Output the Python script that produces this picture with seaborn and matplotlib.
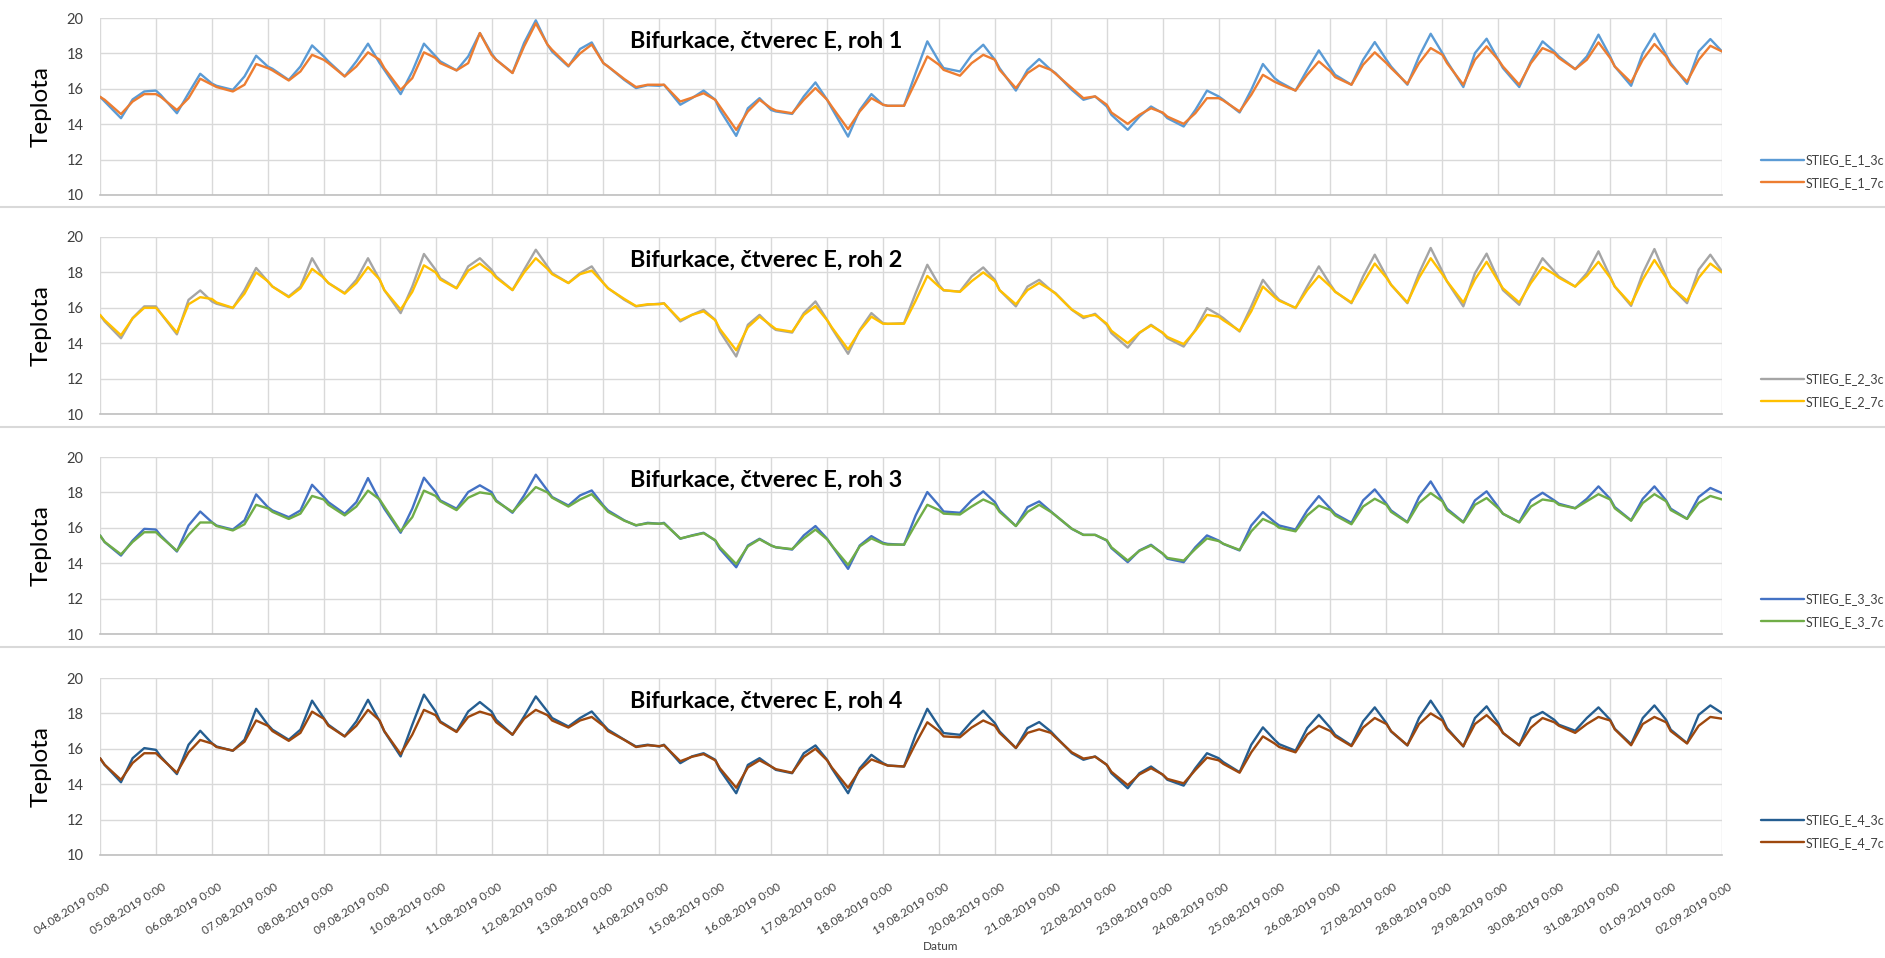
import numpy as np
import pandas as pd
import matplotlib
matplotlib.use("Agg")
import matplotlib.pyplot as plt
import matplotlib.transforms as mtransforms
import seaborn as sns

# ---------------- DATA ----------------
days = pd.date_range("2019-08-04", periods=29, freq="D")
hours_of_day = [0, 2, 9, 14, 19]
end_time = pd.Timestamp("2019-09-02 00:00")

tick_labels = [
    "04.08.2019 0:00", "05.08.2019 0:00", "06.08.2019 0:00", "07.08.2019 0:00",
    "08.08.2019 0:00", "09.08.2019 0:00", "10.08.2019 0:00", "11.08.2019 0:00",
    "12.08.2019 0:00", "13.08.2019 0:00", "14.08.2019 0:00", "15.08.2019 0:00",
    "16.08.2019 0:00", "17.08.2019 0:00", "18.08.2019 0:00", "19.08.2019 0:00",
    "20.08.2019 0:00", "21.08.2019 0:00", "22.08.2019 0:00", "23.08.2019 0:00",
    "24.08.2019 0:00", "25.08.2019 0:00", "26.08.2019 0:00", "27.08.2019 0:00",
    "28.08.2019 0:00", "29.08.2019 0:00", "30.08.2019 0:00", "31.08.2019 0:00",
    "01.09.2019 0:00", "02.09.2019 0:00",
]

titles = ["Bifurkace, čtverec E, roh 1", "Bifurkace, čtverec E, roh 2",
          "Bifurkace, čtverec E, roh 3", "Bifurkace, čtverec E, roh 4"]
series_names = [("STIEG_E_1_3c", "STIEG_E_1_7c"), ("STIEG_E_2_3c", "STIEG_E_2_7c"),
                ("STIEG_E_3_3c", "STIEG_E_3_7c"), ("STIEG_E_4_3c", "STIEG_E_4_7c")]

# values per day at 0, 2, 9, 14, 19 h ; last value = 02.09.2019 0:00
e1_3c = [15.55, 15.28, 14.34, 15.40, 15.85,  15.90, 15.66, 14.62, 15.75, 16.85,
         16.30, 16.17, 15.94, 16.70, 17.87,  17.26, 17.13, 16.50, 17.26, 18.45,
         17.83, 17.55, 16.70, 17.55, 18.55,  17.45, 17.07, 15.70, 16.98, 18.55,
         17.83, 17.55, 17.04, 17.83, 19.15,  18.00, 17.64, 16.90, 18.60, 19.87,
         18.50, 18.10, 17.26, 18.25, 18.62,  17.45, 17.26, 16.50, 16.04, 16.20,
         16.17, 16.23, 15.10, 15.47, 15.90,  15.38, 14.80, 13.34, 14.90, 15.47,
         14.80, 14.72, 14.58, 15.57, 16.36,  15.38, 14.90, 13.30, 14.80, 15.70,
         15.10, 15.04, 15.04, 16.90, 18.68,  17.55, 17.17, 16.98, 17.90, 18.49,
         17.64, 17.17, 15.90, 17.07, 17.68,  17.07, 16.89, 15.94, 15.38, 15.57,
         15.00, 14.53, 13.68, 14.43, 15.00,  14.62, 14.34, 13.87, 14.80, 15.90,
         15.57, 15.38, 14.66, 15.94, 17.40,  16.60, 16.40, 15.90, 17.07, 18.17,
         17.17, 16.79, 16.23, 17.64, 18.64,  17.64, 17.26, 16.23, 17.83, 19.11,
         18.02, 17.55, 16.10, 18.02, 18.83,  17.64, 17.17, 16.10, 17.55, 18.68,
         18.11, 17.83, 17.11, 17.83, 19.06,  17.83, 17.26, 16.17, 18.02, 19.11,
         17.92, 17.45, 16.28, 18.11, 18.81,  18.11]
e1_7c = [15.55, 15.38, 14.57, 15.28, 15.70,  15.70, 15.55, 14.80, 15.47, 16.57,
         16.23, 16.10, 15.85, 16.23, 17.40,  17.17, 17.04, 16.47, 16.98, 17.92,
         17.64, 17.45, 16.70, 17.26, 18.06,  17.64, 17.17, 15.94, 16.60, 18.06,
         17.74, 17.45, 17.04, 17.45, 19.15,  17.92, 17.64, 16.89, 18.40, 19.70,
         18.50, 18.20, 17.30, 18.00, 18.50,  17.45, 17.26, 16.55, 16.10, 16.23,
         16.23, 16.23, 15.28, 15.50, 15.75,  15.38, 15.00, 13.68, 14.72, 15.38,
         14.90, 14.77, 14.62, 15.38, 16.04,  15.38, 15.00, 13.72, 14.72, 15.47,
         15.10, 15.04, 15.04, 16.40, 17.83,  17.36, 17.07, 16.74, 17.45, 17.92,
         17.64, 17.07, 16.04, 16.89, 17.32,  17.07, 16.85, 16.04, 15.47, 15.57,
         15.10, 14.66, 14.02, 14.53, 14.90,  14.66, 14.43, 14.02, 14.62, 15.47,
         15.47, 15.34, 14.72, 15.66, 16.79,  16.40, 16.28, 15.90, 16.79, 17.55,
         16.98, 16.66, 16.23, 17.36, 18.06,  17.45, 17.17, 16.28, 17.45, 18.30,
         17.92, 17.45, 16.23, 17.64, 18.40,  17.64, 17.26, 16.23, 17.45, 18.30,
         18.02, 17.74, 17.11, 17.64, 18.62,  17.74, 17.26, 16.36, 17.64, 18.53,
         17.83, 17.36, 16.40, 17.64, 18.43,  18.11]
e2_3c = [15.60, 15.23, 14.28, 15.42, 16.08,  16.08, 15.70, 14.50, 16.45, 16.98,
         16.36, 16.23, 15.98, 17.00, 18.25,  17.49, 17.20, 16.64, 17.20, 18.80,
         17.68, 17.40, 16.83, 17.58, 18.80,  17.58, 17.00, 15.70, 17.20, 19.04,
         18.15, 17.68, 17.11, 18.34, 18.80,  18.15, 17.77, 17.00, 18.15, 19.28,
         18.34, 17.96, 17.40, 17.96, 18.34,  17.40, 17.11, 16.45, 16.08, 16.17,
         16.23, 16.26, 15.23, 15.60, 15.89,  15.32, 14.66, 13.25, 15.04, 15.60,
         14.94, 14.75, 14.60, 15.70, 16.36,  15.32, 14.85, 13.40, 14.75, 15.70,
         15.13, 15.09, 15.13, 16.83, 18.43,  17.30, 16.98, 16.92, 17.77, 18.28,
         17.58, 17.00, 16.08, 17.20, 17.58,  17.00, 16.83, 15.89, 15.42, 15.66,
         15.04, 14.57, 13.75, 14.57, 15.04,  14.57, 14.28, 13.81, 14.75, 15.98,
         15.60, 15.42, 14.66, 16.08, 17.58,  16.74, 16.45, 15.98, 17.20, 18.34,
         17.30, 16.92, 16.26, 17.77, 19.00,  17.77, 17.30, 16.26, 17.96, 19.38,
         18.06, 17.49, 16.08, 17.96, 19.06,  17.58, 17.00, 16.17, 17.58, 18.80,
         18.06, 17.77, 17.20, 17.96, 19.19,  17.77, 17.20, 16.11, 17.96, 19.32,
         17.77, 17.20, 16.26, 18.15, 19.00,  18.06]
e2_7c = [15.60, 15.30, 14.45, 15.40, 16.00,  16.00, 15.70, 14.60, 16.20, 16.60,
         16.50, 16.30, 16.00, 16.80, 18.00,  17.50, 17.20, 16.60, 17.10, 18.20,
         17.70, 17.40, 16.80, 17.40, 18.30,  17.60, 17.00, 15.90, 16.90, 18.40,
         18.00, 17.60, 17.10, 18.10, 18.50,  18.00, 17.70, 17.00, 18.00, 18.80,
         18.20, 17.90, 17.40, 17.90, 18.10,  17.40, 17.10, 16.50, 16.10, 16.20,
         16.20, 16.25, 15.30, 15.60, 15.80,  15.30, 14.80, 13.60, 14.90, 15.50,
         15.00, 14.80, 14.65, 15.60, 16.10,  15.30, 14.90, 13.65, 14.70, 15.50,
         15.10, 15.10, 15.10, 16.40, 17.80,  17.20, 17.00, 16.90, 17.50, 18.00,
         17.50, 17.00, 16.20, 17.00, 17.40,  17.00, 16.80, 15.90, 15.50, 15.60,
         15.10, 14.70, 14.00, 14.60, 15.00,  14.60, 14.35, 13.95, 14.70, 15.60,
         15.50, 15.30, 14.70, 15.80, 17.20,  16.60, 16.40, 16.00, 17.00, 17.80,
         17.20, 16.90, 16.30, 17.40, 18.50,  17.70, 17.30, 16.30, 17.70, 18.80,
         17.90, 17.50, 16.30, 17.60, 18.60,  17.50, 17.10, 16.30, 17.40, 18.30,
         17.90, 17.70, 17.20, 17.80, 18.60,  17.70, 17.20, 16.20, 17.60, 18.70,
         17.70, 17.20, 16.40, 17.70, 18.50,  18.00]
e3_3c = [15.57, 15.19, 14.43, 15.28, 15.94,  15.90, 15.57, 14.66, 16.13, 16.92,
         16.32, 16.13, 15.90, 16.42, 17.89,  17.17, 16.98, 16.60, 16.98, 18.43,
         17.74, 17.45, 16.79, 17.45, 18.81,  17.55, 17.08, 15.72, 17.08, 18.83,
         18.02, 17.55, 17.08, 18.02, 18.40,  18.02, 17.55, 16.85, 17.83, 19.00,
         18.11, 17.74, 17.26, 17.83, 18.11,  17.26, 16.98, 16.42, 16.13, 16.28,
         16.23, 16.28, 15.38, 15.57, 15.72,  15.28, 14.81, 13.77, 15.00, 15.38,
         15.00, 14.90, 14.77, 15.57, 16.10,  15.38, 15.00, 13.68, 15.00, 15.53,
         15.15, 15.09, 15.04, 16.70, 18.02,  17.26, 16.92, 16.85, 17.55, 18.06,
         17.45, 16.98, 16.10, 17.17, 17.49,  16.92, 16.70, 15.94, 15.60, 15.60,
         15.28, 14.85, 14.06, 14.72, 15.04,  14.53, 14.25, 14.06, 14.90, 15.57,
         15.28, 15.09, 14.72, 16.13, 16.89,  16.32, 16.13, 15.90, 16.98, 17.79,
         17.08, 16.79, 16.28, 17.55, 18.17,  17.36, 16.98, 16.32, 17.74, 18.62,
         17.55, 17.08, 16.32, 17.55, 18.06,  17.17, 16.79, 16.32, 17.55, 17.98,
         17.55, 17.36, 17.11, 17.64, 18.34,  17.64, 17.17, 16.42, 17.64, 18.34,
         17.55, 17.08, 16.51, 17.74, 18.25,  17.96]
e3_7c = [15.57, 15.20, 14.50, 15.20, 15.75,  15.75, 15.50, 14.70, 15.60, 16.30,
         16.30, 16.10, 15.85, 16.20, 17.30,  17.10, 16.90, 16.50, 16.80, 17.80,
         17.60, 17.30, 16.70, 17.20, 18.10,  17.60, 17.20, 15.80, 16.60, 18.10,
         17.80, 17.50, 17.00, 17.70, 18.00,  17.90, 17.50, 16.90, 17.60, 18.30,
         18.00, 17.70, 17.20, 17.60, 17.90,  17.20, 16.90, 16.40, 16.15, 16.25,
         16.23, 16.25, 15.40, 15.55, 15.70,  15.30, 14.90, 13.95, 14.95, 15.35,
         15.00, 14.90, 14.80, 15.40, 15.90,  15.35, 15.00, 13.90, 14.95, 15.40,
         15.10, 15.05, 15.05, 16.20, 17.30,  17.00, 16.80, 16.75, 17.20, 17.60,
         17.30, 16.90, 16.10, 16.90, 17.30,  16.90, 16.70, 15.95, 15.60, 15.60,
         15.30, 14.90, 14.15, 14.70, 15.00,  14.55, 14.30, 14.15, 14.80, 15.40,
         15.25, 15.10, 14.75, 15.80, 16.50,  16.20, 16.00, 15.80, 16.70, 17.25,
         17.00, 16.70, 16.20, 17.20, 17.64,  17.30, 16.90, 16.30, 17.40, 17.96,
         17.50, 17.00, 16.30, 17.30, 17.68,  17.10, 16.80, 16.30, 17.20, 17.60,
         17.50, 17.30, 17.10, 17.50, 17.90,  17.60, 17.10, 16.40, 17.40, 17.90,
         17.50, 17.00, 16.50, 17.40, 17.80,  17.60]
e4_3c = [15.47, 15.09, 14.11, 15.47, 16.04,  15.94, 15.57, 14.57, 16.23, 17.02,
         16.32, 16.13, 15.89, 16.51, 18.26,  17.36, 17.08, 16.51, 17.08, 18.72,
         17.74, 17.36, 16.70, 17.55, 18.77,  17.55, 16.98, 15.57, 17.36, 19.06,
         18.11, 17.55, 16.98, 18.11, 18.64,  18.11, 17.64, 16.79, 17.83, 18.96,
         18.11, 17.74, 17.26, 17.74, 18.11,  17.36, 17.08, 16.51, 16.13, 16.23,
         16.13, 16.23, 15.19, 15.57, 15.75,  15.38, 14.81, 13.49, 15.09, 15.47,
         15.00, 14.81, 14.62, 15.75, 16.19,  15.38, 14.90, 13.49, 14.90, 15.66,
         15.19, 15.06, 15.00, 16.79, 18.26,  17.26, 16.89, 16.79, 17.55, 18.15,
         17.45, 16.98, 16.04, 17.17, 17.51,  16.98, 16.70, 15.75, 15.38, 15.57,
         15.09, 14.62, 13.77, 14.62, 15.00,  14.53, 14.25, 13.92, 14.90, 15.75,
         15.47, 15.25, 14.68, 16.23, 17.21,  16.51, 16.26, 15.89, 17.17, 17.92,
         17.17, 16.79, 16.19, 17.55, 18.34,  17.45, 16.98, 16.19, 17.74, 18.72,
         17.74, 17.17, 16.13, 17.74, 18.40,  17.45, 16.89, 16.19, 17.74, 18.08,
         17.64, 17.36, 17.02, 17.74, 18.34,  17.64, 17.13, 16.26, 17.74, 18.45,
         17.64, 17.08, 16.32, 17.92, 18.45,  18.02]
e4_7c = [15.47, 15.10, 14.25, 15.20, 15.75,  15.75, 15.50, 14.65, 15.80, 16.50,
         16.30, 16.10, 15.90, 16.40, 17.60,  17.30, 17.00, 16.45, 16.90, 18.10,
         17.70, 17.30, 16.70, 17.30, 18.20,  17.60, 17.00, 15.70, 16.80, 18.20,
         17.90, 17.50, 16.95, 17.80, 18.10,  17.90, 17.50, 16.80, 17.70, 18.20,
         17.90, 17.60, 17.20, 17.60, 17.80,  17.30, 17.00, 16.50, 16.10, 16.20,
         16.15, 16.20, 15.30, 15.55, 15.70,  15.35, 14.90, 13.80, 14.95, 15.35,
         15.00, 14.85, 14.65, 15.55, 16.00,  15.35, 14.95, 13.80, 14.80, 15.40,
         15.15, 15.05, 15.00, 16.30, 17.50,  17.00, 16.70, 16.65, 17.20, 17.60,
         17.30, 16.90, 16.05, 16.90, 17.10,  16.90, 16.65, 15.80, 15.45, 15.55,
         15.10, 14.70, 13.95, 14.55, 14.90,  14.55, 14.30, 14.05, 14.80, 15.50,
         15.35, 15.15, 14.65, 15.80, 16.70,  16.30, 16.10, 15.80, 16.80, 17.30,
         17.00, 16.70, 16.15, 17.20, 17.74,  17.40, 17.00, 16.20, 17.40, 18.00,
         17.60, 17.10, 16.15, 17.40, 17.90,  17.30, 16.90, 16.20, 17.20, 17.74,
         17.50, 17.30, 16.90, 17.40, 17.80,  17.60, 17.10, 16.20, 17.40, 17.80,
         17.50, 17.00, 16.30, 17.30, 17.80,  17.70]

panel_values = [(e1_3c, e1_7c), (e2_3c, e2_7c), (e3_3c, e3_7c), (e4_3c, e4_7c)]

# ---------------- STYLE ----------------
panel_colors = [("#5B9BD5", "#ED7D31"), ("#A5A5A5", "#FFC000"),
                ("#4472C4", "#70AD47"), ("#255E91", "#9E480E")]

sns.set_theme(style="white")
plt.rcParams["font.family"] = ["Lato", "DejaVu Sans"]

W, H = 1885, 958
fig = plt.figure(figsize=(W / 100, H / 100), dpi=100)

times = [d + pd.Timedelta(hours=h) for d in days for h in hours_of_day] + [end_time]
tick_pos = list(days) + [end_time]

plot_left, plot_right = 100, 1722
panel_tops = [18, 237, 457, 678]
panel_h = 177
separators = [207, 427, 647]
grid_c = "#D9D9D9"

for i in range(4):
    top = panel_tops[i]
    ax = fig.add_axes([plot_left / W, 1 - (top + panel_h) / H,
                       (plot_right - plot_left) / W, panel_h / H])
    for name, vals, col in zip(series_names[i], panel_values[i], panel_colors[i]):
        df = pd.DataFrame({"time": times, "temp": vals})
        sns.lineplot(data=df, x="time", y="temp", ax=ax, color=col, lw=1.7,
                     label=name, legend=False)
    ax.set_xlim(tick_pos[0], tick_pos[-1])
    ax.set_ylim(10, 20)
    ax.set_yticks([10, 12, 14, 16, 18, 20])
    ax.set_xticks(tick_pos)
    ax.grid(True, color=grid_c, lw=1.0)
    for s in ["top", "left", "right"]:
        ax.spines[s].set_visible(False)
    ax.spines["bottom"].set_color("#BFBFBF")
    ax.spines["bottom"].set_linewidth(1.2)
    ax.tick_params(axis="both", length=0)
    ax.tick_params(axis="y", labelsize=10.5, labelcolor="#404040", pad=12)
    ax.set_xlabel("")
    ax.set_ylabel("")
    if i < 3:
        ax.set_xticklabels([])
    else:
        ax.set_xticklabels(tick_labels, rotation=32, ha="right",
                           rotation_mode="anchor", fontsize=8.5, color="#404040")
        ax.tick_params(axis="x", pad=19)
        offset = mtransforms.ScaledTranslation(6 / 100, 0, fig.dpi_scale_trans)
        for lab in ax.get_xticklabels():
            lab.set_transform(lab.get_transform() + offset)
    # title inside the plot
    fig.text(766 / W, 1 - (top + 23) / H, titles[i], ha="center", va="center",
             fontsize=16.8, fontweight="bold", color="#000000")
    # y label
    fig.text(41 / W, 1 - (top + panel_h / 2) / H, "Teplota", rotation=90,
             ha="center", va="center", fontsize=17.5, color="#000000")
    # legend at right
    handles, labels = ax.get_legend_handles_labels()
    fig.legend(handles, labels, loc="upper left",
               bbox_to_anchor=(1761 / W, 1 - (top + 136) / H),
               frameon=False, fontsize=9, handlelength=3.4, handletextpad=0.15,
               labelspacing=0.85, borderpad=0, borderaxespad=0,
               labelcolor="#404040")

for y in separators:
    fig.add_artist(plt.Line2D([0, 1], [1 - y / H, 1 - y / H], color="#D9D9D9",
                              lw=1.5, transform=fig.transFigure))

fig.text(941 / W, 1 - 947 / H, "Datum", ha="center", va="center", fontsize=8.5,
         color="#404040")

fig.savefig("out.png", dpi=100)
